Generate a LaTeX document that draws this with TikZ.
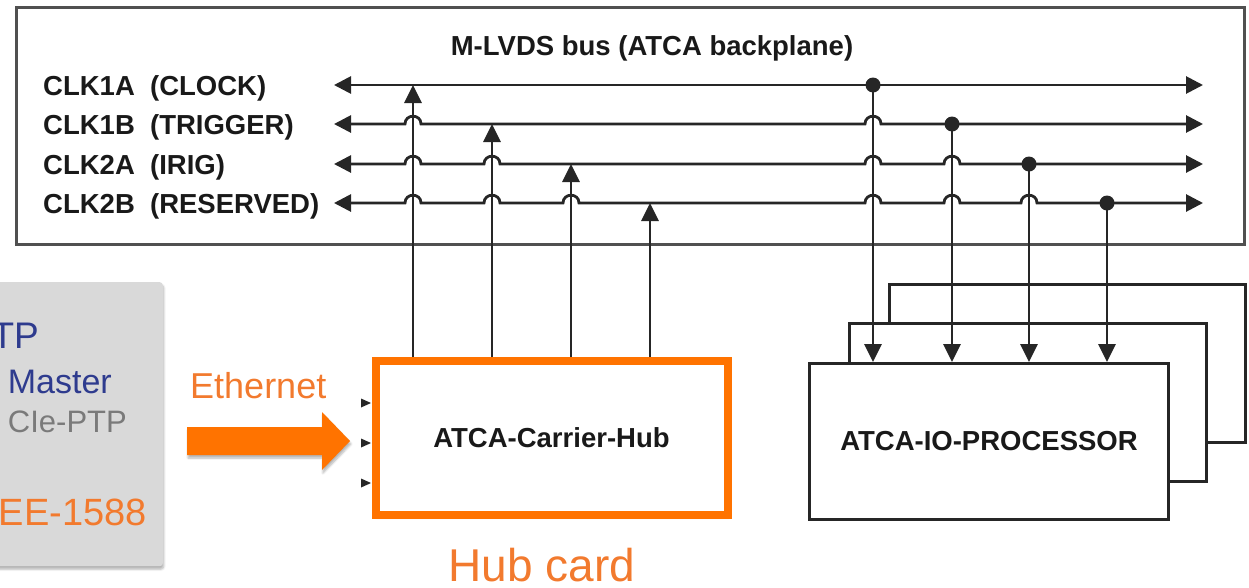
\documentclass[tikz,border=0pt]{standalone}
\usepackage{fontspec}
\setmainfont{Liberation Sans}
\usetikzlibrary{arrows.meta,shadows.blur}

\definecolor{lineg}{HTML}{262626}
\definecolor{frameg}{HTML}{505050}
\definecolor{hubor}{HTML}{FF7300}
\definecolor{txtor}{HTML}{F27A2E}
\definecolor{ptpblue}{HTML}{2E3B8E}
\definecolor{ptpgray}{HTML}{7A7A7A}
\definecolor{panelg}{HTML}{D9D9D9}

\newcommand\fsz[1]{\fontsize{#1}{#1}\selectfont}

\begin{document}
\begin{tikzpicture}[x=1pt,y=-1pt,
  lbl/.style={font=\bfseries\fsz{27.5}, text=black!90, inner sep=0pt},
  wire/.style={draw=lineg, line width=2.8pt},
  uptip/.style={-{Triangle[length=18pt,width=17pt]}},
  bustip/.style={{Triangle[length=17pt,width=17pt]}-{Triangle[length=17pt,width=17pt]}},
  cardbox/.style={draw=lineg, fill=white, line width=3pt, inner sep=0pt},
  softshadow/.style={blur shadow={shadow xshift=1pt, shadow yshift=-3pt, shadow opacity=30, shadow blur steps=6}},
  dot/.style={circle, fill=lineg, minimum size=15pt, inner sep=0pt}
]
\useasboundingbox (0,0) rectangle (1249,587);

% ---- PTP master panel (runs off the left edge) ----
\node[fill=panelg, rounded corners=3pt, softshadow, minimum width=220pt, minimum height=284pt,
      anchor=north east, inner sep=0pt] (panel) at (163,282) {};
\node[anchor=base east, text=ptpblue, font=\fsz{37}, inner sep=0pt] (ptp) at (39,348) {TP};
\node[anchor=base east, text=ptpblue, font=\fsz{34}, inner sep=0pt] (master) at (112,393) {Master};
\node[anchor=base east, text=ptpgray, font=\fsz{31}, inner sep=0pt] (pcie) at (127,432) {CIe-PTP};
\node[anchor=base east, text=txtor, font=\fsz{38}, inner sep=0pt] (ieee) at (147,525) {EE-1588};

% ---- backplane bus frame ----
\node[draw=frameg, line width=3pt, minimum width=1228pt, minimum height=237pt,
      anchor=north west, inner sep=0pt] (bus) at (15,6) {};
\node[lbl] (title) at (652,48) {M-LVDS bus (ATCA backplane)};

\node[lbl, anchor=base west] (l1) at (43,95)  {CLK1A\ \ (CLOCK)};
\node[lbl, anchor=base west] (l2) at (43,134) {CLK1B\ \ (TRIGGER)};
\node[lbl, anchor=base west] (l3) at (43,174) {CLK2A\ \ (IRIG)};
\node[lbl, anchor=base west] (l4) at (43,213) {CLK2B\ \ (RESERVED)};

% bus line ends
\coordinate (L1) at (334,85);   \coordinate (R1) at (1203,85);
\coordinate (L2) at (334,124);  \coordinate (R2) at (1203,124);
\coordinate (L3) at (334,164);  \coordinate (R3) at (1203,164);
\coordinate (L4) at (334,203);  \coordinate (R4) at (1203,203);

% hub feeder columns and IO tap columns
\coordinate (h1) at (413,0); \coordinate (h2) at (492,0);
\coordinate (h3) at (571,0); \coordinate (h4) at (650,0);
\coordinate (p1) at (873,0); \coordinate (p2) at (952,0);
\coordinate (p3) at (1029,0); \coordinate (p4) at (1107,0);

% ---- IO processor cards (stacked) ----
\node[cardbox, minimum width=356pt, minimum height=158pt, anchor=north west] (io3) at (888,283) {};
\node[cardbox, minimum width=357pt, minimum height=158pt, anchor=north west] (io2) at (848,322) {};
\node[cardbox, minimum width=359pt, minimum height=156pt, anchor=north west, lbl,
      font=\bfseries\fsz{27.5}] (io) at (808,362) {ATCA-IO-PROCESSOR};

% ---- hub card ----
\node[draw=hubor, fill=white, line width=8pt, minimum width=352pt, minimum height=153.5pt,
      softshadow, inner sep=0pt, font=\bfseries\fsz{27.5}, text=black!90] (hub) at (551.5,437.75)
      {ATCA-Carrier-Hub};

% small input markers on the hub's left side
\fill[lineg] (361,398.5) -- (371,403) -- (361,407.5) -- cycle;
\fill[lineg] (361,438.5) -- (371,443) -- (361,447.5) -- cycle;
\fill[lineg] (361,478.5) -- (371,483) -- (361,487.5) -- cycle;

% ---- bus lines, hopping over the vertical feeders ----
\draw[wire, bustip] (L1) -- (R1);
\draw[wire, bustip] (L2)
  -- (405,124) .. controls (405,113.6) and (421,113.6) .. (421,124)
  -- (865,124) .. controls (865,113.6) and (881,113.6) .. (881,124)
  -- (R2);
\draw[wire, bustip] (L3)
  -- (405,164) .. controls (405,153.6) and (421,153.6) .. (421,164)
  -- (484,164) .. controls (484,153.6) and (500,153.6) .. (500,164)
  -- (865,164) .. controls (865,153.6) and (881,153.6) .. (881,164)
  -- (944,164) .. controls (944,153.6) and (960,153.6) .. (960,164)
  -- (R3);
\draw[wire, bustip] (L4)
  -- (405,203) .. controls (405,192.6) and (421,192.6) .. (421,203)
  -- (484,203) .. controls (484,192.6) and (500,192.6) .. (500,203)
  -- (563,203) .. controls (563,192.6) and (579,192.6) .. (579,203)
  -- (865,203) .. controls (865,192.6) and (881,192.6) .. (881,203)
  -- (944,203) .. controls (944,192.6) and (960,192.6) .. (960,203)
  -- (1021,203) .. controls (1021,192.6) and (1037,192.6) .. (1037,203)
  -- (R4);

% ---- hub drives the bus ----
\draw[wire, uptip] (h1 |- hub.north) -- (h1 |- L1);
\draw[wire, uptip] (h2 |- hub.north) -- (h2 |- L2);
\draw[wire, uptip] (h3 |- hub.north) -- (h3 |- L3);
\draw[wire, uptip] (h4 |- hub.north) -- (h4 |- L4);

% ---- IO cards listen on the bus ----
\node[dot] (d1) at (p1 |- L1) {};
\node[dot] (d2) at (p2 |- L2) {};
\node[dot] (d3) at (p3 |- L3) {};
\node[dot] (d4) at (p4 |- L4) {};
\draw[wire, uptip] (d1.center) -- (d1 |- io.north);
\draw[wire, uptip] (d2.center) -- (d2 |- io.north);
\draw[wire, uptip] (d3.center) -- (d3 |- io.north);
\draw[wire, uptip] (d4.center) -- (d4 |- io.north);

% ---- Ethernet link ----
\fill[hubor, softshadow] (187,427) -- (322,427) -- (322,412) -- (350,441)
  -- (322,470) -- (322,455) -- (187,455) -- cycle;
\node[anchor=base west, text=txtor, font=\fsz{36}, inner sep=0pt] (eth) at (190,398) {Ethernet};

\node[anchor=base, text=txtor, font=\fsz{46}, inner sep=0pt] (hubcap) at (542,581) {Hub card};
\end{tikzpicture}
\end{document}
